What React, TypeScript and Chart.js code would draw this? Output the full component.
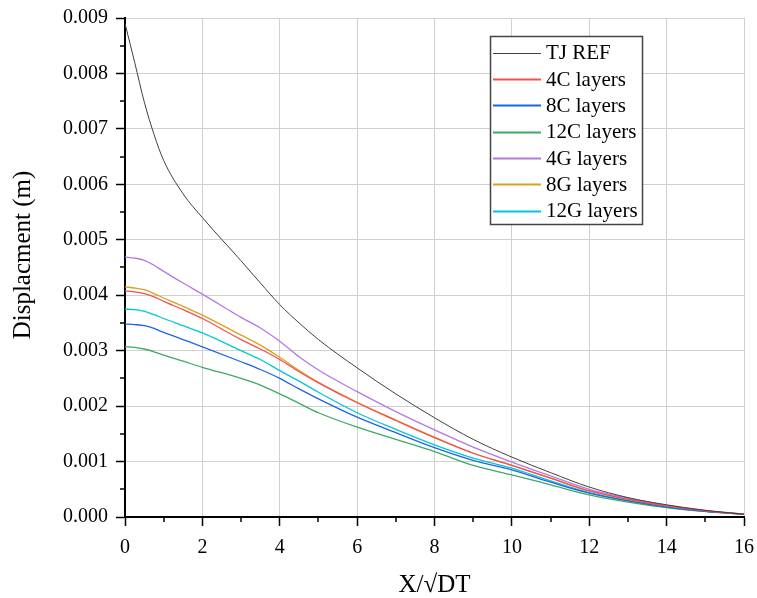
import React, { useEffect, useRef } from "react";
import { Chart, registerables } from "chart.js";

Chart.register(...registerables);

const xValues = [0, 0.25, 0.5, 0.75, 1, 1.5, 2, 3, 3.5, 4, 4.5, 5, 6, 7, 8, 9, 10, 11, 12, 13, 14, 15, 16];

const tjRef = [0.0089, 0.0082, 0.00748, 0.0069, 0.00643, 0.00583, 0.0054, 0.00462, 0.00422, 0.00383, 0.0035, 0.0032, 0.00269, 0.00222, 0.00179, 0.0014, 0.00108, 0.0008, 0.00054, 0.00035, 0.00022, 0.00012, 0.00005];
const c4 = [0.00408, 0.00406, 0.00403, 0.00397, 0.00389, 0.00374, 0.00358, 0.0032, 0.00303, 0.00284, 0.00262, 0.00242, 0.00206, 0.00174, 0.00143, 0.00115, 0.00093, 0.0007, 0.00047, 0.00032, 0.0002, 0.00011, 0.00005];
const c8 = [0.00348, 0.00347, 0.00345, 0.0034, 0.00333, 0.0032, 0.00307, 0.0028, 0.00266, 0.0025, 0.00231, 0.00213, 0.0018, 0.00152, 0.00125, 0.00102, 0.00085, 0.00063, 0.00043, 0.00029, 0.00018, 0.0001, 0.00005];
const c12 = [0.00307, 0.00306, 0.00303, 0.00298, 0.00292, 0.00281, 0.0027, 0.0025, 0.00238, 0.00222, 0.00205, 0.00188, 0.00162, 0.0014, 0.00118, 0.00093, 0.00076, 0.00058, 0.0004, 0.00027, 0.00017, 0.0001, 0.00005];
const g4 = [0.00469, 0.00467, 0.00463, 0.00454, 0.00443, 0.00422, 0.00402, 0.0036, 0.00341, 0.00317, 0.00289, 0.00265, 0.00226, 0.0019, 0.00157, 0.00126, 0.00099, 0.00074, 0.0005, 0.00034, 0.00021, 0.00012, 0.00005];
const g8 = [0.00415, 0.00413, 0.0041, 0.00403, 0.00395, 0.0038, 0.00364, 0.00328, 0.0031, 0.00288, 0.00264, 0.00243, 0.00207, 0.00175, 0.00144, 0.00115, 0.00093, 0.0007, 0.00047, 0.00032, 0.0002, 0.00011, 0.00005];
const g12 = [0.00375, 0.00374, 0.00371, 0.00365, 0.00358, 0.00345, 0.00332, 0.003, 0.00284, 0.00264, 0.00245, 0.00225, 0.00188, 0.00158, 0.0013, 0.00106, 0.00088, 0.00065, 0.00044, 0.0003, 0.00019, 0.0001, 0.00005];

const seriesLabels = ["TJ REF", "4C layers", "8C layers", "12C layers", "4G layers", "8G layers", "12G layers"];
const seriesValues = [tjRef, c4, c8, c12, g4, g8, g12];
const seriesColors = ["#404040", "rgb(245,80,80)", "rgb(30,100,230)", "rgb(60,170,100)", "rgb(180,120,230)", "rgb(220,160,30)", "rgb(0,200,210)"];
const seriesWidths = [1, 1.3, 1.3, 1.3, 1.3, 1.3, 1.3];

const xTicks = [0, 2, 4, 6, 8, 10, 12, 14, 16];
const yTickLabels = ["0.000", "0.001", "0.002", "0.003", "0.004", "0.005", "0.006", "0.007", "0.008", "0.009"];
const xTitle = "X/√DT";
const yTitle = "Displacment (m)";

const FONT = "'Liberation Serif', 'Times New Roman', serif";

const minorTicksPlugin = {
  id: "minorTicks",
  afterDraw(chart: any) {
    const ctx = chart.ctx;
    const xs = chart.scales.x;
    const ys = chart.scales.y;
    const area = chart.chartArea;
    ctx.save();
    ctx.strokeStyle = "#000";
    ctx.lineWidth = 1.5;
    for (let i = 1; i < 16; i += 2) {
      const px = Math.round(xs.getPixelForValue(i));
      ctx.beginPath();
      ctx.moveTo(px, area.bottom);
      ctx.lineTo(px, area.bottom + 5);
      ctx.stroke();
    }
    for (let i = 0; i < 9; i++) {
      const py = Math.round(ys.getPixelForValue(i * 0.001 + 0.0005));
      ctx.beginPath();
      ctx.moveTo(area.left, py);
      ctx.lineTo(area.left - 5, py);
      ctx.stroke();
    }
    ctx.fillStyle = "#000";
    ctx.font = `25px ${FONT}`;
    ctx.textAlign = "center";
    ctx.textBaseline = "alphabetic";
    ctx.fillText(xTitle, (area.left + area.right) / 2, 592);
    ctx.translate(30, 255);
    ctx.rotate(-Math.PI / 2);
    ctx.fillText(yTitle, 0, 0);
    ctx.restore();
  },
};

const legendPlugin = {
  id: "boxLegend",
  afterDraw(chart: any) {
    const ctx = chart.ctx;
    const bx = 490, by = 36, bw = 152, bh = 188;
    ctx.save();
    ctx.fillStyle = "#fff";
    ctx.fillRect(bx, by, bw, bh);
    ctx.strokeStyle = "#444";
    ctx.lineWidth = 1.5;
    ctx.strokeRect(bx + 0.5, by + 0.5, bw, bh);
    ctx.font = `21px ${FONT}`;
    ctx.textBaseline = "middle";
    ctx.textAlign = "left";
    chart.data.datasets.forEach((ds: any, i: number) => {
      const cy = 52.7 + i * 26.35;
      ctx.strokeStyle = ds.borderColor;
      ctx.lineWidth = i === 0 ? 1 : 1.8;
      ctx.beginPath();
      ctx.moveTo(493, Math.round(cy) + 0.5);
      ctx.lineTo(541, Math.round(cy) + 0.5);
      ctx.stroke();
      ctx.fillStyle = "#000";
      ctx.fillText(ds.label, 546, cy + 1);
    });
    ctx.restore();
  },
};

export default function App() {
  const ref = useRef<HTMLCanvasElement | null>(null);
  useEffect(() => {
    if (!ref.current) return;
    const datasets = seriesLabels.map((label, i) => ({
      label,
      data: xValues.map((x, j) => ({ x, y: seriesValues[i][j] })),
      borderColor: seriesColors[i],
      backgroundColor: seriesColors[i],
      borderWidth: seriesWidths[i],
      pointRadius: 0,
      fill: false,
      cubicInterpolationMode: "monotone" as const,
    }));
    const chart = new Chart(ref.current, {
      type: "line",
      data: { datasets },
      plugins: [minorTicksPlugin, legendPlugin],
      options: {
        animation: false,
        responsive: false,
        maintainAspectRatio: false,
        layout: { padding: { top: 18, right: 13, left: 0, bottom: 0 }, autoPadding: false },
        plugins: { legend: { display: false }, tooltip: { enabled: false } },
        scales: {
          x: {
            type: "linear",
            min: 0,
            max: 16,
            afterBuildTicks: (scale: any) => {
              scale.ticks = xTicks.map((v) => ({ value: v }));
            },
            afterFit: (scale: any) => {
              scale.height = 81;
              scale.paddingLeft = 0;
              scale.paddingRight = 0;
            },
            ticks: {
              color: "#000",
              font: { family: FONT, size: 20 },
              padding: 10,
              maxRotation: 0,
              callback: (v: any) => String(v),
            },
            grid: { color: "#d0d0d0", lineWidth: 1, tickColor: "#000", tickLength: 9, tickWidth: 1.5 },
            border: { color: "#000", width: 2 },
          },
          y: {
            type: "linear",
            min: 0,
            max: 0.009,
            afterBuildTicks: (scale: any) => {
              scale.ticks = yTickLabels.map((t) => ({ value: parseFloat(t) }));
            },
            afterFit: (scale: any) => {
              scale.width = 125;
              scale.paddingTop = 0;
              scale.paddingBottom = 0;
            },
            ticks: {
              color: "#000",
              font: { family: FONT, size: 20 },
              padding: 8,
              callback: (v: any, i: number) => yTickLabels[i],
            },
            grid: { color: "#d0d0d0", lineWidth: 1, tickColor: "#000", tickLength: 9, tickWidth: 1.5 },
            border: { color: "#000", width: 2 },
          },
        },
      },
    });
    return () => chart.destroy();
  }, []);
  return (
    <div style={{ position: "fixed", left: 0, top: 0, width: 757, height: 598, background: "#fff" }}>
      <canvas ref={ref} width={757} height={598} style={{ width: 757, height: 598 }} />
    </div>
  );
}
